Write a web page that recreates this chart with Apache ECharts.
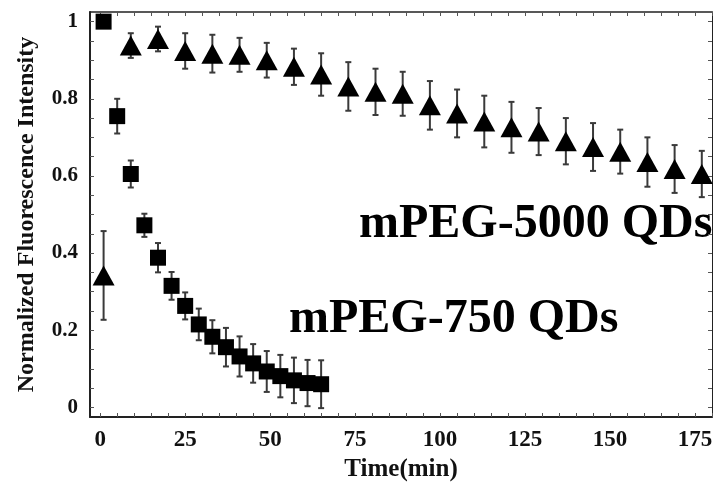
<!DOCTYPE html>
<html>
<head>
<meta charset="utf-8">
<script src="https://cdn.jsdelivr.net/npm/echarts@6/dist/echarts.min.js"></script>
<style>
html,body{margin:0;padding:0;background:#fff;}
#chart{width:714px;height:482px;}
</style>
</head>
<body>
<div id="chart"></div>
<script>
// mPEG-750 QDs (squares)
var time750 = [1, 5, 9, 13, 17, 21, 25, 29, 33, 37, 41, 45, 49, 53, 57, 61, 65];
var value750 = [1.0, 0.755, 0.605, 0.472, 0.388, 0.315, 0.263, 0.215, 0.183, 0.156, 0.132, 0.114, 0.093, 0.081, 0.07, 0.063, 0.06];
var error750 = [0, 0.045, 0.035, 0.03, 0.038, 0.036, 0.035, 0.041, 0.043, 0.05, 0.052, 0.05, 0.053, 0.055, 0.059, 0.06, 0.062];

// mPEG-5000 QDs (triangles)
var time5000 = [1, 9, 17, 25, 33, 41, 49, 57, 65, 73, 81, 89, 97, 105, 113, 121, 129, 137, 145, 153, 161, 169, 177];
var value5000 = [0.342, 0.938, 0.955, 0.924, 0.917, 0.914, 0.9, 0.883, 0.863, 0.832, 0.818, 0.813, 0.783, 0.762, 0.741, 0.726, 0.715, 0.69, 0.675, 0.663, 0.636, 0.618, 0.605];
var error5000 = [0.115, 0.032, 0.032, 0.046, 0.049, 0.044, 0.045, 0.047, 0.055, 0.063, 0.06, 0.057, 0.063, 0.062, 0.067, 0.066, 0.061, 0.06, 0.062, 0.057, 0.064, 0.062, 0.06];

// axis ticks
var xTickLabels = [0, 25, 50, 75, 100, 125, 150, 175];
var xMinorTicks = [];
for (var i = 0; i <= 180; i += 5) xMinorTicks.push(i);
var yTickLabels = [0, 0.2, 0.4, 0.6, 0.8, 1];
var yMinorTicks = [];
for (var j = 0; j <= 20; j++) yMinorTicks.push(Math.round(j * 5) / 100);

var FONT = '"Liberation Serif", "Times New Roman", serif';

function pairs(t, v) { return t.map(function (x, k) { return [x, v[k]]; }); }
function triples(t, v, e) { return t.map(function (x, k) { return [x, v[k], e[k]]; }); }

function errorRender(params, api) {
  var x = api.value(0), y = api.value(1), e = api.value(2);
  if (!e) return null;
  var top = api.coord([x, y + e]);
  var bot = api.coord([x, y - e]);
  var cw = 3;
  var st = { stroke: '#3a3a3a', lineWidth: 2 };
  return {
    type: 'group',
    children: [
      { type: 'line', shape: { x1: top[0], y1: top[1], x2: bot[0], y2: bot[1] }, style: st },
      { type: 'line', shape: { x1: top[0] - cw, y1: top[1], x2: top[0] + cw, y2: top[1] }, style: st },
      { type: 'line', shape: { x1: bot[0] - cw, y1: bot[1], x2: bot[0] + cw, y2: bot[1] }, style: st }
    ]
  };
}

var chart = echarts.init(document.getElementById('chart'));
var xMin = -3, xMax = 180, yMin = -0.025, yMax = 1.025;

chart.setOption({
  animation: false,
  backgroundColor: '#fff',
  grid: { left: 90, right: 2, top: 12, bottom: 65, containLabel: false, outerBoundsMode: 'none' },
  xAxis: [
    {
      type: 'value', min: xMin, max: xMax, position: 'bottom',
      axisLine: { show: true, onZero: false, lineStyle: { color: '#222', width: 2 } },
      axisTick: { show: true, inside: true, length: 4, customValues: xMinorTicks, lineStyle: { color: '#555', width: 1 } },
      axisLabel: { customValues: xTickLabels, fontFamily: FONT, fontSize: 23, fontWeight: 'bold', color: '#111', margin: 12 },
      splitLine: { show: false },
      name: 'Time(min)', nameLocation: 'middle', nameGap: 38,
      nameTextStyle: { fontFamily: FONT, fontSize: 25, fontWeight: 'bold', color: '#111' }
    },
    {
      type: 'value', min: xMin, max: xMax, position: 'top',
      axisLine: { show: true, onZero: false, lineStyle: { color: '#222', width: 1.5 } },
      axisTick: { show: true, inside: true, length: 4, customValues: xMinorTicks, lineStyle: { color: '#555', width: 1 } },
      axisLabel: { show: false },
      splitLine: { show: false }
    }
  ],
  yAxis: [
    {
      type: 'value', min: yMin, max: yMax, position: 'left',
      axisLine: { show: true, onZero: false, lineStyle: { color: '#222', width: 2 } },
      axisTick: { show: true, inside: true, length: 4, customValues: yMinorTicks, lineStyle: { color: '#555', width: 1 } },
      axisLabel: { customValues: yTickLabels, fontFamily: FONT, fontSize: 21, fontWeight: 'bold', color: '#111', margin: 12 },
      splitLine: { show: false },
      name: 'Normalized Fluorescence Intensity', nameLocation: 'middle', nameGap: 51, nameRotate: 90,
      nameTextStyle: { fontFamily: FONT, fontSize: 24, fontWeight: 'bold', color: '#111' }
    },
    {
      type: 'value', min: yMin, max: yMax, position: 'right',
      axisLine: { show: true, onZero: false, lineStyle: { color: '#222', width: 1 } },
      axisTick: { show: true, inside: true, length: 4, customValues: yMinorTicks, lineStyle: { color: '#555', width: 1 } },
      axisLabel: { show: false },
      splitLine: { show: false }
    }
  ],
  series: [
    { type: 'custom', name: 'err750', renderItem: errorRender, data: triples(time750, value750, error750), encode: { x: 0, y: 1 }, z: 2, clip: false },
    { type: 'custom', name: 'err5000', renderItem: errorRender, data: triples(time5000, value5000, error5000), encode: { x: 0, y: 1 }, z: 2, clip: false },
    { type: 'scatter', name: 'mPEG-750 QDs', symbol: 'rect', symbolSize: 16, itemStyle: { color: '#000', opacity: 1 }, data: pairs(time750, value750), z: 3, clip: false },
    { type: 'scatter', name: 'mPEG-5000 QDs', symbol: 'triangle', symbolSize: [22, 20], itemStyle: { color: '#000', opacity: 1 }, data: pairs(time5000, value5000), z: 3, clip: false }
  ],
  graphic: [
    { type: 'text', left: 289, top: 296, style: { text: 'mPEG-750 QDs', font: 'bold 48px "Liberation Serif", "Times New Roman", serif', fill: '#000' } },
    { type: 'text', left: 359, top: 201, style: { text: 'mPEG-5000 QDs', font: 'bold 48px "Liberation Serif", "Times New Roman", serif', fill: '#000' } }
  ]
});
</script>
</body>
</html>
